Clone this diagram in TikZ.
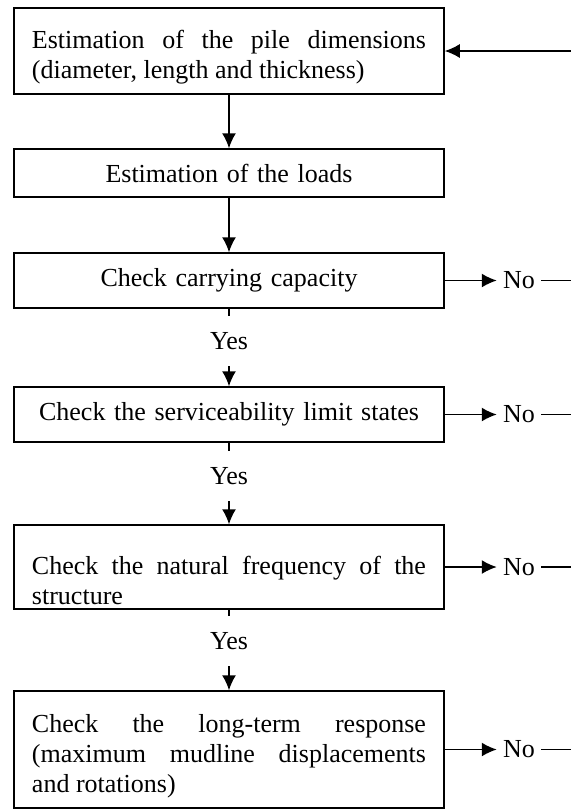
\documentclass[tikz,border=0pt]{standalone}
\usepackage{fontspec}
\setmainfont{Liberation Serif}
\usetikzlibrary{shapes,arrows.meta}
\usetikzlibrary{positioning}
\tikzstyle{block} = [draw, rectangle, line width=0.75pt, text width=197pt,
inner xsep=9pt, inner ysep=2pt, font=\fontsize{13pt}{15pt}\selectfont]
\tikzstyle{line} = [draw, line width=0.75pt, -{Latex[length=7.5pt,width=7pt]}]
\hyphenpenalty=10000
\exhyphenpenalty=10000
\tolerance=10000
\hbadness=10000

\begin{document}
\begin{tikzpicture}[x=0.5pt, y=-0.5pt,
	answer/.style={inner xsep=3pt, inner ysep=8.2pt,
		font=\fontsize{13pt}{15pt}\selectfont},
	tick/.style={draw, line width=0.6pt}]
	\useasboundingbox (0,0) rectangle (571,810);
	\coordinate (rim) at (571,0);
	% Steps
	\node [block, align=justify, minimum height=43pt] at (229,51) (dims) {\rule{0pt}{14.8pt}Estimation of the pile dimensions (diameter, length and thickness)};
	\node [block, align=center, minimum height=24pt] at (229,173) (loads) {Estimation of the loads};
	\node [block, align=center, minimum height=27.5pt] at (229,280.5) (cap) {Check carrying capacity};
	\node [block, align=center, minimum height=27.5pt] at (229,414.5) (sls) {Check the serviceability limit states};
	\node [block, align=justify, minimum height=42pt] at (229,567) (freq) {\rule{0pt}{22.2pt}Check the natural frequency of the structure};
	\node [block, align=justify, minimum height=58.5pt] at (229,749.5) (longterm) {\rule{0pt}{15.3pt}Check the long-term response (maximum mudline displacements and rotations)};
	% Answers
	\node [answer] at (229,341) (yescap) {Yes};
	\node [answer] at (229,476) (yessls) {Yes};
	\node [answer] at (229,641) (yesfreq) {Yes};
	\node [answer, right=26pt of cap] (nocap) {No};
	\node [answer, right=26pt of sls] (nosls) {No};
	\node [answer, right=26pt of freq] (nofreq) {No};
	\node [answer, right=26pt of longterm] (nolongterm) {No};
	%% Flows
	% Main line
	\path [line] (dims) -- (loads);
	\path [line] (loads) -- (cap);
	\path [tick] (cap) -- (yescap);
	\path [line] (yescap) -- (sls);
	\path [tick] (sls) -- (yessls);
	\path [line] (yessls) -- (freq);
	\path [tick] (freq) -- (yesfreq);
	\path [line] (yesfreq) -- (longterm);
	% No branches
	\path [line] (cap) -- (nocap);
	\path [line] (sls) -- (nosls);
	\path [line] (freq) -- (nofreq);
	\path [line] (longterm) -- (nolongterm);
	\path [tick] (nocap.east) -- (nocap.east -| rim);
	\path [tick] (nosls.east) -- (nosls.east -| rim);
	\path [tick] (nofreq.east) -- (nofreq.east -| rim);
	\path [tick] (nolongterm.east) -- (nolongterm.east -| rim);
	% Back to the start
	\path [line] (dims.east -| rim) -- (dims.east);
\end{tikzpicture}
\end{document}
